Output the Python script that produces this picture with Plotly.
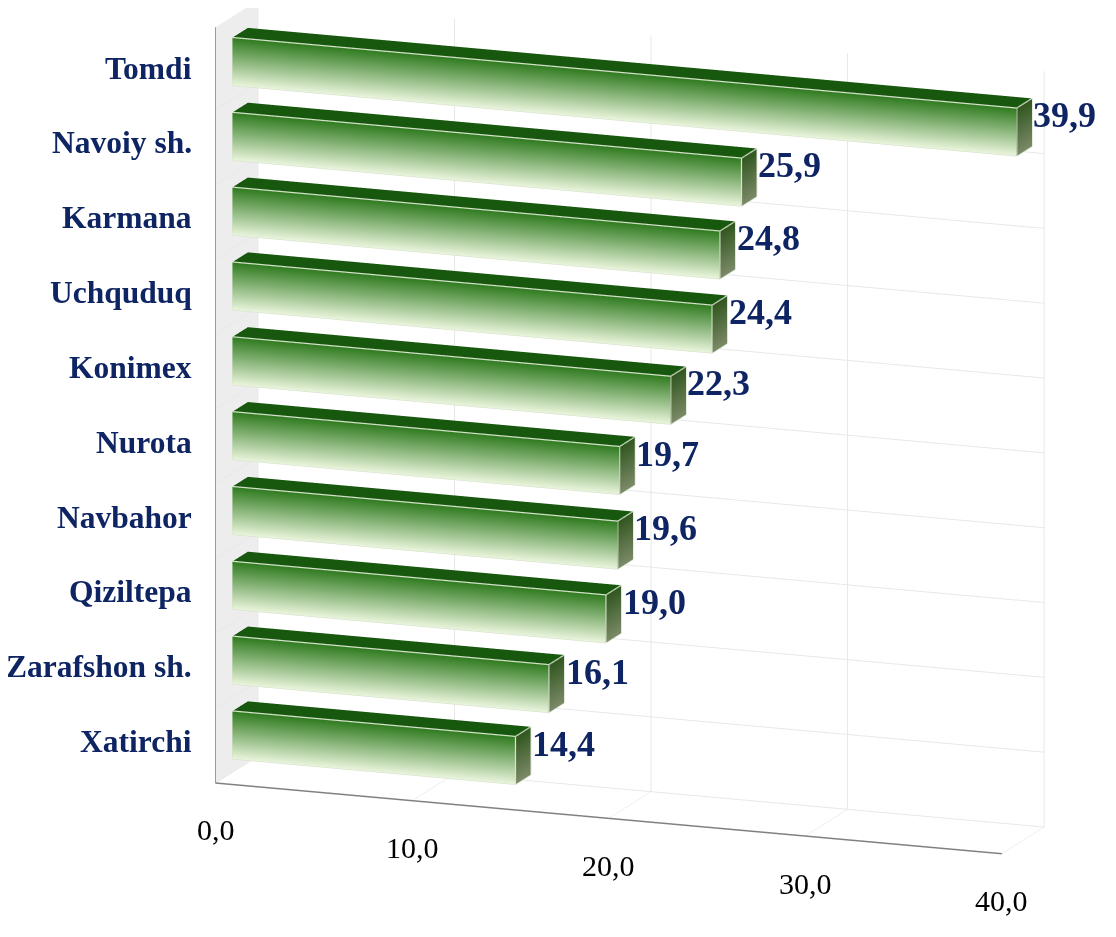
import plotly.graph_objects as go

# ---------------- data ----------------
categories = ["Tomdi", "Navoiy sh.", "Karmana", "Uchquduq", "Konimex",
              "Nurota", "Navbahor", "Qiziltepa", "Zarafshon sh.", "Xatirchi"]
values = [39.9, 25.9, 24.8, 24.4, 22.3, 19.7, 19.6, 19.0, 16.1, 14.4]
tick_values = [0, 10, 20, 30, 40]
tick_labels = ["0,0", "10,0", "20,0", "30,0", "40,0"]

# ---------------- style ----------------
HALF = 0.32          # half bar thickness (category units)
Y0, Y1 = 0.40, 0.76  # bar depth span inside depth range [0, 1]
Z_MIN, Z_MAX = -0.5, 9.6
FRONT_TOP = "rgb(46,122,30)"
FRONT_BOT = "rgb(234,245,220)"
TOP_COL = "rgb(24,88,14)"
END_TOP = "rgb(48,86,30)"
END_BOT = "rgb(124,138,104)"
EDGE_COL = "rgb(214,226,204)"
NAVY = "#0f2563"
SERIF = "Liberation Serif, Times New Roman, serif"
SCALE = 1.661
SHIFT = (-0.1186, -0.0716, -0.1024)   # camera translation (moves view right/up)
EYE = (0.686, -1.816, 0.476)

n = len(categories)
xs, ys, zs, cols = [], [], [], []
I, J, K = [], [], []
ex, ey, ez = [], [], []


def quad(pts, colors):
    base = len(xs)
    for (px, py, pz), c in zip(pts, colors):
        xs.append(px); ys.append(py); zs.append(pz); cols.append(c)
    I.extend([base, base]); J.extend([base + 1, base + 2]); K.extend([base + 2, base + 3])


def seg(a, b):
    ex.extend([a[0], b[0], None]); ey.extend([a[1], b[1], None]); ez.extend([a[2], b[2], None])


for i, v in enumerate(values):
    zc = n - 1 - i
    z0, z1 = zc - HALF, zc + HALF
    quad([(0, Y0, z1), (v, Y0, z1), (v, Y0, z0), (0, Y0, z0)],
         [FRONT_TOP, FRONT_TOP, FRONT_BOT, FRONT_BOT])
    quad([(0, Y0, z1), (v, Y0, z1), (v, Y1, z1), (0, Y1, z1)],
         [TOP_COL] * 4)
    quad([(v, Y0, z1), (v, Y1, z1), (v, Y1, z0), (v, Y0, z0)],
         [END_TOP, END_TOP, END_BOT, END_BOT])
    seg((0, Y0, z1), (v, Y0, z1))
    seg((0, Y0, z0), (v, Y0, z0))
    seg((0, Y0, z0), (0, Y0, z1))
    seg((v, Y0, z0), (v, Y0, z1))
    seg((v, Y0, z1), (v, Y1, z1))
    seg((v, Y0, z0), (v, Y1, z0))
    seg((v, Y1, z0), (v, Y1, z1))

fig = go.Figure()
fig.add_trace(go.Mesh3d(
    x=xs, y=ys, z=zs, i=I, j=J, k=K, vertexcolor=cols,
    lighting=dict(ambient=1.0, diffuse=0.0, specular=0.0, roughness=1.0, fresnel=0.0),
    flatshading=False, hoverinfo="skip", showscale=False))
fig.add_trace(go.Scatter3d(
    x=ex, y=ey, z=ez, mode="lines", line=dict(color=EDGE_COL, width=2.5),
    hoverinfo="skip", showlegend=False))

annotations = []
for i, (cat, v) in enumerate(zip(categories, values)):
    zc = n - 1 - i
    annotations.append(dict(
        x=0, y=0, z=zc, text="<b>%s</b>" % cat, showarrow=False,
        xanchor="right", yanchor="middle", xshift=-22, yshift=4,
        font=dict(family=SERIF, size=31.5, color=NAVY)))
    annotations.append(dict(
        x=v, y=(Y0 + Y1) / 2, z=zc, text="<b>%s</b>" % ("%.1f" % v).replace(".", ","),
        showarrow=False, xanchor="left", yanchor="middle", xshift=7, yshift=12,
        font=dict(family=SERIF, size=36, color=NAVY)))
for t, lab in zip(tick_values, tick_labels):
    annotations.append(dict(
        x=t, y=0, z=Z_MIN, text=lab, showarrow=False,
        xanchor="center", yanchor="middle", yshift=-47,
        font=dict(family=SERIF, size=30, color="black")))

axis_common = dict(title=dict(text=""), showspikes=False, zeroline=False,
                   ticks="", showticklabels=False)
fig.update_layout(
    width=1116, height=937,
    margin=dict(l=0, r=0, t=0, b=0),
    paper_bgcolor="white",
    showlegend=False,
    scene=dict(
        domain=dict(x=[0.0, 1.0], y=[0.0, 1.0]),
        xaxis=dict(range=[0, 40], tickvals=tick_values, showgrid=True, gridcolor="#e8e8e8",
                   showbackground=True, backgroundcolor="#ededed",
                   showline=True, linecolor="#808080", linewidth=3, **axis_common),
        yaxis=dict(range=[0, 1], showgrid=False, showbackground=True, backgroundcolor="white",
                   showline=False, **axis_common),
        zaxis=dict(range=[Z_MIN, Z_MAX], tickvals=[k + 0.5 for k in range(-1, n - 1)],
                   showgrid=True, gridcolor="#e8e8e8",
                   showbackground=True, backgroundcolor="white",
                   showline=True, linecolor="#9a9a9a", linewidth=2, **axis_common),
        aspectmode="manual",
        aspectratio=dict(x=1.08 * SCALE, y=0.154 * SCALE, z=1.0 * SCALE),
        camera=dict(eye=dict(x=EYE[0] + SHIFT[0], y=EYE[1] + SHIFT[1], z=EYE[2] + SHIFT[2]),
                    up=dict(x=0, y=0, z=1),
                    center=dict(x=SHIFT[0], y=SHIFT[1], z=SHIFT[2]),
                    projection=dict(type="orthographic")),
        annotations=annotations,
    ),
)

fig.write_html("out.html", config={"displayModeBar": False})
